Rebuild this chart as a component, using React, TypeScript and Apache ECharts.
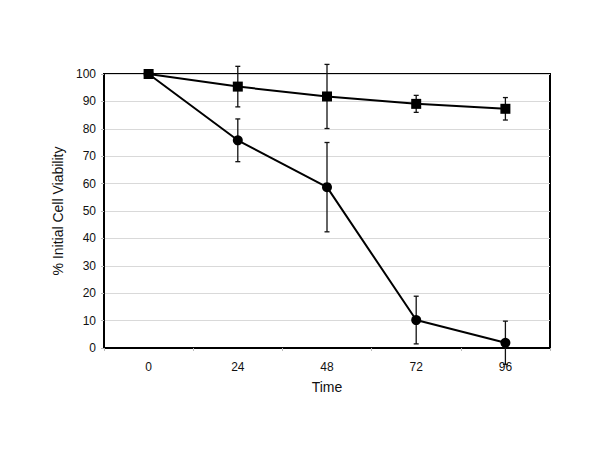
import React, { useEffect, useRef } from "react";
import * as echarts from "echarts";

const categories = ["0", "24", "48", "72", "96"];
const squareValues = [100, 95.4, 91.8, 89.1, 87.3];
const squareErrors = [0, 7.4, 11.7, 3.1, 4.1];
const circleValues = [100, 75.8, 58.7, 10.2, 1.9];
const circleErrors = [0, 7.8, 16.3, 8.7, 7.9];
const yTicks = { min: 0, max: 100, interval: 10 };

const FONT = "Liberation Sans, Arial, sans-serif";

function errorSeries(values: number[], errors: number[]) {
  const data = values.map((v, i) => [i, v - errors[i], v + errors[i], errors[i]]);
  return {
    type: "custom",
    clip: false,
    z: 1,
    data,
    renderItem: (params: any, api: any) => {
      if (api.value(3) <= 0) return null;
      const lo = api.coord([api.value(0), api.value(1)]);
      const hi = api.coord([api.value(0), api.value(2)]);
      const x = lo[0];
      const cap = 2.5;
      const style = { stroke: "#111", lineWidth: 1.3 };
      return {
        type: "group",
        children: [
          { type: "line", shape: { x1: x, y1: lo[1], x2: x, y2: hi[1] }, style },
          { type: "line", shape: { x1: x - cap, y1: lo[1], x2: x + cap, y2: lo[1] }, style },
          { type: "line", shape: { x1: x - cap, y1: hi[1], x2: x + cap, y2: hi[1] }, style },
        ],
      };
    },
  };
}

export default function App() {
  const ref = useRef<HTMLDivElement>(null);
  useEffect(() => {
    if (!ref.current) return;
    const chart = echarts.init(ref.current, null, { renderer: "svg" });
    chart.setOption({
      animation: false,
      backgroundColor: "#fff",
      textStyle: { fontFamily: FONT },
      grid: {
        left: 104,
        right: 50,
        top: 74,
        bottom: 116,
        show: true,
        borderColor: "#000",
        borderWidth: 2,
        containLabel: false,
      },
      xAxis: {
        type: "category",
        data: categories,
        boundaryGap: true,
        name: "Time",
        nameLocation: "middle",
        nameGap: 32,
        nameTextStyle: { fontSize: 14, color: "#111", fontFamily: FONT },
        axisLine: { lineStyle: { color: "#000", width: 2 } },
        axisTick: { show: true, length: 3, lineStyle: { color: "#bbb" } },
        axisLabel: { fontSize: 12, color: "#111", margin: 13, fontFamily: FONT },
        splitLine: { show: false },
      },
      yAxis: {
        type: "value",
        min: yTicks.min,
        max: yTicks.max,
        interval: yTicks.interval,
        name: "% Initial Cell Viability",
        nameLocation: "middle",
        nameGap: 35,
        nameTextStyle: { fontSize: 14, color: "#111", fontFamily: FONT },
        axisLine: { show: true, lineStyle: { color: "#000", width: 2 } },
        axisTick: { show: true, length: 3, lineStyle: { color: "#bbb" } },
        axisLabel: { fontSize: 12, color: "#111", margin: 8, fontFamily: FONT },
        splitLine: { show: true, lineStyle: { color: "#d9d9d9", width: 1 } },
      },
      series: [
        errorSeries(squareValues, squareErrors),
        errorSeries(circleValues, circleErrors),
        {
          type: "line",
          data: squareValues,
          symbol: "rect",
          symbolSize: 10,
          z: 3,
          lineStyle: { color: "#000", width: 2 },
          itemStyle: { color: "#000" },
        },
        {
          type: "line",
          data: circleValues,
          symbol: "circle",
          symbolSize: 10,
          z: 3,
          lineStyle: { color: "#000", width: 2 },
          itemStyle: { color: "#000" },
        },
      ],
    });
    return () => chart.dispose();
  }, []);
  return (
    <div
      ref={ref}
      style={{ position: "absolute", left: 0, top: 0, width: 600, height: 464 }}
    />
  );
}
